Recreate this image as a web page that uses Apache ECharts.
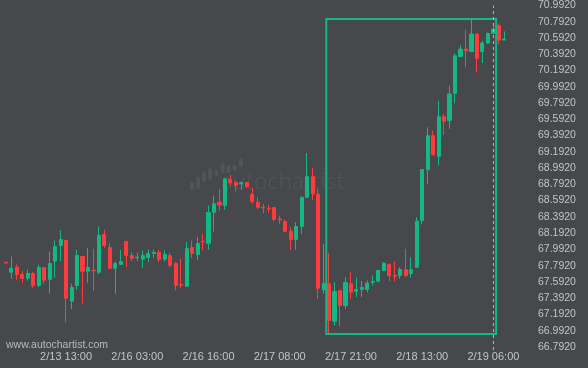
<!DOCTYPE html>
<html><head><meta charset="utf-8">
<script src="https://cdn.jsdelivr.net/npm/echarts@6/dist/echarts.min.js"></script>
<style>html,body{margin:0;padding:0;background:#46484c;}#c{width:588px;height:368px;}</style>
</head><body><div id="c"></div>
<script>
const opens = [67.833,67.711,67.773,67.683,67.637,67.695,67.548,67.769,67.621,67.846,
68.039,68.101,67.355,67.548,67.904,67.723,67.736,67.711,68.174,68.015,
67.760,67.806,68.088,67.916,67.888,67.871,67.892,67.941,67.953,67.871,
67.916,67.818,67.560,67.539,68.015,67.929,68.092,68.067,68.448,68.571,
68.531,68.850,68.817,68.797,68.817,68.670,68.571,68.510,68.498,68.506,
68.367,68.334,68.215,68.113,68.273,68.633,68.887,68.670,67.495,67.569,
67.109,67.486,67.302,67.569,67.478,67.499,67.499,67.588,67.601,67.732,
67.806,67.671,67.671,67.741,67.695,67.773,68.346,68.973,69.391,69.137,
69.624,69.575,69.911,70.365,70.456,70.427,70.641,70.427,70.530,70.648,
70.743,70.567];
const closes = [67.823,67.760,67.683,67.634,67.695,67.548,67.769,67.613,67.818,68.027,
68.113,67.392,67.523,67.916,67.723,67.769,67.728,68.162,68.039,67.760,
67.818,67.843,67.916,67.883,67.896,67.916,67.941,67.953,67.867,67.929,
67.797,67.551,67.551,68.002,67.945,68.064,68.085,68.445,68.552,68.539,
68.859,68.810,68.777,68.813,68.764,68.580,68.510,68.503,68.490,68.362,
68.355,68.215,68.113,68.273,68.633,68.887,68.674,67.514,67.569,67.118,
67.474,67.302,67.585,67.465,67.499,67.523,67.576,67.597,67.732,67.822,
67.667,67.662,67.744,67.671,67.741,68.338,68.973,69.391,69.157,69.624,
69.567,69.903,70.374,70.456,70.435,70.641,70.341,70.530,70.648,70.702,
70.567,70.579];
const lows = [67.818,67.630,67.618,67.581,67.609,67.519,67.527,67.569,67.446,67.642,
67.843,67.097,67.257,67.495,67.323,67.581,67.478,67.683,68.011,67.744,
67.446,67.797,67.773,67.846,67.846,67.765,67.834,67.888,67.834,67.839,
67.765,67.486,67.511,67.527,67.888,67.863,67.978,67.986,68.211,68.469,
68.478,68.777,68.703,68.724,68.743,68.552,68.490,68.436,68.441,68.334,
68.306,68.203,67.986,67.986,68.183,68.623,68.601,67.384,67.446,66.962,
67.056,67.044,67.261,67.384,67.404,67.404,67.465,67.548,67.588,67.723,
67.601,67.597,67.630,67.650,67.646,67.765,68.297,68.797,69.145,69.022,
69.400,69.473,69.788,70.356,70.230,70.417,70.169,70.284,70.522,70.641,
70.518,70.564];
const highs = [67.839,67.904,67.806,67.723,67.741,67.716,67.802,67.773,67.966,68.101,
68.224,68.105,67.569,67.986,67.910,68.011,67.999,68.273,68.232,68.067,
67.839,67.986,68.101,67.962,67.950,67.978,67.990,67.990,67.986,67.978,
67.950,67.839,67.880,68.088,68.101,68.146,68.183,68.531,68.654,68.736,
68.866,68.908,68.829,68.829,68.820,68.748,68.633,68.552,68.539,68.510,
68.408,68.359,68.264,68.326,68.641,69.178,68.994,68.736,68.060,67.950,
67.588,67.492,67.650,67.711,67.642,67.600,67.609,67.671,67.741,67.834,
67.822,67.843,67.773,67.999,67.896,68.387,68.982,69.493,69.452,69.821,
69.658,70.005,70.402,70.505,70.693,70.813,70.644,70.558,70.660,70.764,
70.764,70.673];
const timeLabels = ['2/13 13:00','2/16 03:00','2/16 16:00','2/17 08:00','2/17 21:00','2/18 13:00','2/19 06:00'];
const timeLabelIndex = [11,24,37,50,63,76,89];
const priceTicks = [66.792,66.992,67.192,67.392,67.592,67.792,67.992,68.192,68.392,68.592,68.792,68.992,69.192,69.392,69.592,69.792,69.992,70.192,70.392,70.592,70.792,70.992];
const patternStart = 59, patternEnd = 89;
const nowIndex = 89;

const GREEN = '#14b884', RED = '#ff3b3b', TXT = '#c4c4c4';
const candles = opens.map((o, i) => [i, o, closes[i], lows[i], highs[i]]);
let boxLow = Infinity, boxHigh = -Infinity;
for (let i = patternStart; i <= patternEnd; i++) { boxLow = Math.min(boxLow, lows[i]); boxHigh = Math.max(boxHigh, highs[i]); }

const chart = echarts.init(document.getElementById('c'), null, {renderer: 'canvas'});
const wmBars = [[190,182,190],[196,177,189],[202,172,182],[208,168,180],[214.5,170,176],[220.5,163,173],[226.5,166,173],[232.5,165,171],[239,158,167]];
chart.setOption({
  backgroundColor: '#46484c',
  animation: false,
  grid: {left: 6.5, right: 80, top: 4.7, bottom: 18},
  xAxis: {
    type: 'value', min: 0.124, max: 91.67,
    axisLine: {show: false}, axisTick: {show: false}, splitLine: {show: false},
    axisLabel: {customValues: timeLabelIndex, formatter: v => timeLabels[timeLabelIndex.indexOf(v)] || '',
      color: TXT, fontSize: 11, fontFamily: 'Liberation Sans', margin: 1}
  },
  yAxis: {
    type: 'value', position: 'right', min: 66.754, max: 70.992, scale: true,
    axisLine: {show: false}, axisTick: {show: false}, splitLine: {show: false},
    axisLabel: {customValues: priceTicks, formatter: v => v.toFixed(4),
      color: TXT, fontSize: 10.5, fontFamily: 'Liberation Sans', margin: 30}
  },
  graphic: [
    {type: 'group', silent: true, z: 0, children: wmBars.map(b => ({
      type: 'rect', shape: {x: b[0], y: b[1], width: 4, height: b[2] - b[1], r: 2},
      style: {fill: 'rgba(255,255,255,0.07)'}})).concat([
      {type: 'text', style: {text: 'autochartist', x: 221, y: 181, fill: 'rgba(255,255,255,0.07)',
        font: '300 24px Lato', verticalAlign: 'middle'}}])},
    {type: 'text', silent: true, style: {text: 'www.autochartist.com', x: 6, y: 345, fill: '#b8b8b8',
      font: '10.5px "Liberation Sans"', verticalAlign: 'middle'}}
  ],
  series: [
    {
      type: 'candlestick', data: candles, barWidth: 3.6, z: 2,
      encode: {x: 0, y: [1, 2, 3, 4]},
      itemStyle: {color: GREEN, color0: RED, borderColor: GREEN, borderColor0: RED, borderWidth: 1},
      markLine: {silent: true, symbol: ['none', 'none'], label: {show: false},
        lineStyle: {color: '#b4b4b4', type: [3, 3], width: 1}, data: [{xAxis: nowIndex}]}
    },
    {
      type: 'custom', z: 4, silent: true,
      data: [[patternStart - 0.5, patternEnd + 0.5, boxLow, boxHigh]],
      encode: {x: [0, 1], y: [2, 3]},
      renderItem: (params, api) => {
        const p0 = api.coord([api.value(0), api.value(3)]);
        const p1 = api.coord([api.value(1), api.value(2)]);
        return {type: 'rect', shape: {x: p0[0], y: p0[1] - 1, width: p1[0] - p0[0], height: p1[1] - p0[1] + 2},
          style: {fill: 'none', stroke: GREEN, lineWidth: 2}};
      }
    }
  ]
});
</script></body></html>
